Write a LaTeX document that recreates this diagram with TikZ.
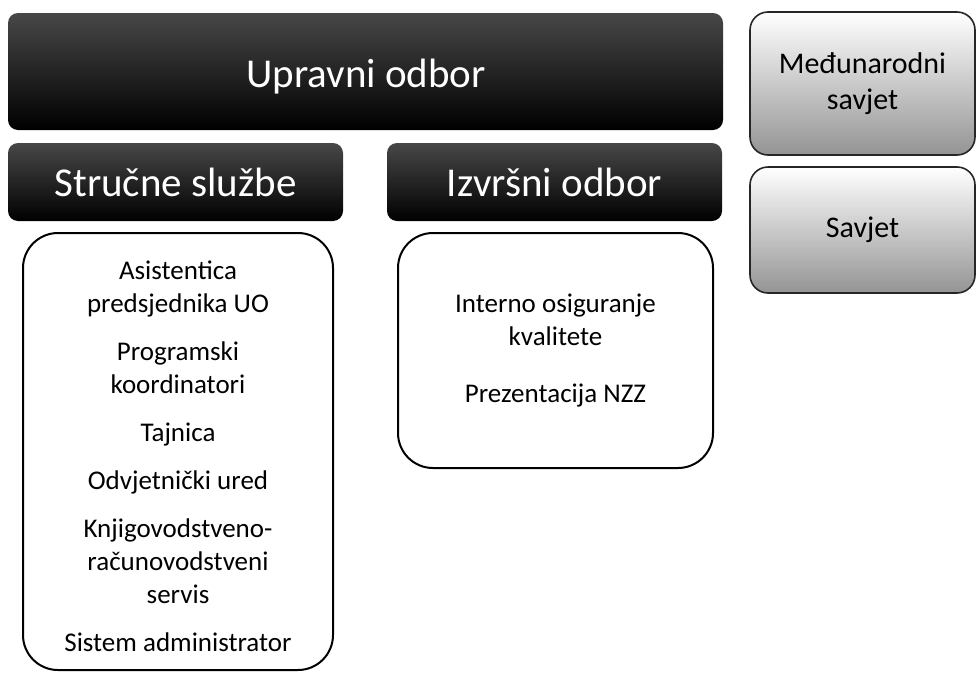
\documentclass[tikz,border=0pt]{standalone}
\usepackage{fontspec}
\setmainfont{Carlito}
\usetikzlibrary{positioning}

\tikzset{
    darkbox/.style={rounded corners=10pt, top color=black!72, middle color=black!97,
        bottom color=black, text=white, inner sep=0pt,
        font=\fontsize{41}{49}\selectfont},
    listbox/.style={draw=black, line width=2pt, rounded corners=35pt, fill=white,
        align=center, inner sep=0pt, font=\fontsize{27}{33}\selectfont},
    listtext/.style={align=center, inner sep=0pt, font=\fontsize{27}{33}\selectfont},
    councilbox/.style={draw=black!85, line width=1.6pt, rounded corners=18pt,
        top color=white, middle color=white!97!black, bottom color=black!42,
        align=center, inner sep=0pt, font=\fontsize{30}{36}\selectfont},
}

\begin{document}
\begin{tikzpicture}[x=1pt,y=-1pt]
    \useasboundingbox (0,0) rectangle (977,672);

    % upper row
    \node[darkbox, minimum width=715pt, minimum height=117pt] (uo) at (365.5,71.5) {};
    \node[text=white, inner sep=0pt, font=\fontsize{41}{49}\selectfont] (uotext) at (366,76.5) {Upravni odbor};

    \node[darkbox, minimum width=335pt, minimum height=78pt] (ss) at (175.5,182) {Stručne službe};
    \node[darkbox, minimum width=335pt, minimum height=78pt] (io) at (554.5,182) {Izvršni odbor};

    % lists
    \node[listbox, minimum width=310pt, minimum height=437pt] (sslist) at (178,451.5) {};
    \node[listtext] (sstext) at ([yshift=-5pt]sslist.center)
        {Asistentica\\predsjednika UO\\[15pt]
         Programski\\koordinatori\\[15pt]
         Tajnica\\[15pt]
         Odvjetnički ured\\[15pt]
         Knjigovodstveno-\\računovodstveni\\servis\\[15pt]
         Sistem administrator};
    \node[listbox, minimum width=315pt, minimum height=235pt] (iolist) at (555.5,350.5)
        {Interno osiguranje\\kvalitete\\[24pt]
         Prezentacija NZZ};

    % councils
    \node[councilbox, minimum width=225pt, minimum height=143pt] (ms) at (862.5,83.5) {Međunarodni\\savjet};
    \node[councilbox, minimum width=225pt, minimum height=126pt] (sv) at (862.5,230) {Savjet};
\end{tikzpicture}
\end{document}
